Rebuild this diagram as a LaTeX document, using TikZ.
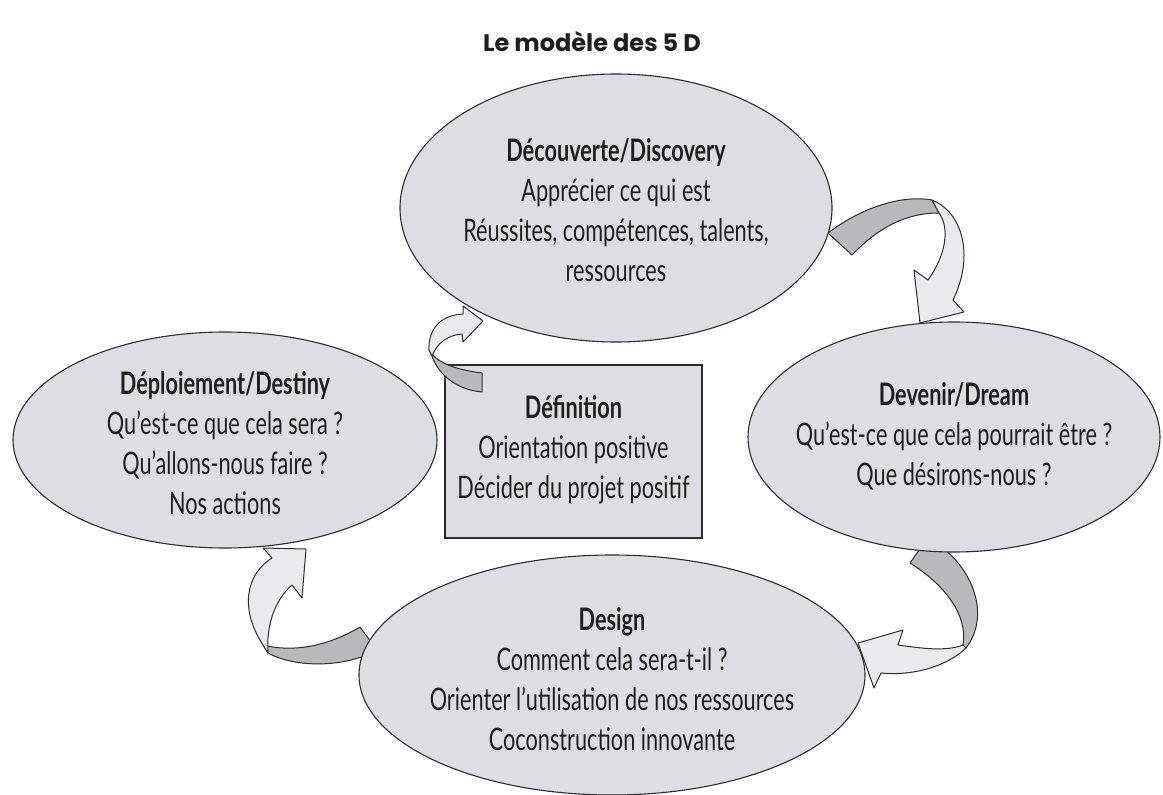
\documentclass[tikz,border=0pt]{standalone}
\usepackage{fontspec}
\setmainfont{Lato}[FakeStretch=0.7]
\newfontfamily\titlefont{Poppins}
\usetikzlibrary{shapes.geometric}
\definecolor{ellfill}{RGB}{221,222,227}
\definecolor{bandDark}{RGB}{184,185,189}
\definecolor{bandLight}{RGB}{233,234,237}
\definecolor{lineC}{RGB}{45,45,45}
\definecolor{txtC}{RGB}{30,30,30}
\begin{document}
\begin{tikzpicture}[x=1pt,y=-1pt,
  ell/.style={ellipse, draw=lineC, fill=ellfill, line width=1.1pt, inner sep=0pt},
  box/.style={rectangle, draw=lineC, fill=ellfill, line width=1.1pt, inner sep=0pt},
  txt/.style={align=center, text=txtC, font=\fontsize{31}{40}\selectfont},
  dk/.style={draw=lineC, fill=bandDark, line width=1pt, line join=round},
  lt/.style={draw=lineC, fill=bandLight, line width=1pt, line join=round}]
\useasboundingbox (0,0) rectangle (1163,795);
\fill[white] (0,0) rectangle (1163,795);

% title
\node[font=\titlefont\bfseries\fontsize{24}{28}\selectfont, text=txtC, anchor=base] (title) at (592,51) {Le modèle des 5 D};

% central box
\node[box, minimum width=257pt, minimum height=173pt] (def) at (573.5,451.5) {};

% arrow A : Discovery -> Dream
\draw[dk] (828,233) .. controls (865,205) and (905,195) .. (932,200) -- (939,213) .. controls (905,213) and (878,228) .. (852,255) -- cycle;
\draw[lt] (932,200) .. controls (962,212) and (975,255) .. (953,300) -- (964,312) -- (920,323) -- (914,270) -- (928,280) .. controls (946,255) and (950,228) .. (939,213) -- cycle;

% arrow B : Dream -> Design
\draw[dk] (927,539) .. controls (965,555) and (995,610) .. (966,648) -- (963,645) .. controls (968,615) and (945,585) .. (910,563) -- cycle;
\draw[lt] (963,645) .. controls (945,652) and (920,648) .. (898,645) -- (903,630) -- (858,643) -- (874,688) -- (881,673) .. controls (910,676) and (945,668) .. (966,648) -- cycle;

% arrow C : Design -> Destiny
\draw[dk] (360,627) .. controls (325,648) and (290,652) .. (263,645) -- (268,653) .. controls (295,668) and (345,668) .. (377,650) -- cycle;
\draw[lt] (263,645) .. controls (240,610) and (245,575) .. (272,558) -- (263,548) -- (306,549) -- (302,598) -- (292,585) .. controls (275,600) and (266,625) .. (268,653) -- cycle;

% arrow D : Definition -> Discovery
\draw[dk] (482,373) .. controls (460,370) and (438,365) .. (429,350) -- (432,356) .. controls (438,375) and (458,390) .. (482,392) -- cycle;
\draw[lt] (429,350) .. controls (428,330) and (440,315) .. (463,314) -- (463,306) -- (483,321) -- (463,342) -- (462,334) .. controls (448,335) and (437,343) .. (432,356) -- cycle;

% ellipses
\node[ell, minimum width=432pt, minimum height=268pt] (disc) at (616,208) {};
\node[ell, minimum width=412pt, minimum height=230pt] (dream) at (954,437) {};
\node[ell, minimum width=424pt, minimum height=216pt] (dest) at (225,440) {};
\node[ell, minimum width=506pt, minimum height=240pt] (design) at (612,675) {};

% texts
\node[txt] (disct) at (616,210) {\bfseries Découverte/Discovery\\Apprécier ce qui est\\Réussites, compétences, talents,\\ressources};
\node[txt] (dreamt) at (954,436) {\bfseries Devenir/Dream\\Qu’est-ce que cela pourrait être ?\\Que désirons-nous ?};
\node[txt] (destt) at (225,443) {\bfseries Déploiement/Destiny\\Qu’est-ce que cela sera ?\\Qu’allons-nous faire ?\\Nos actions};
\node[txt] (designt) at (612,679) {\bfseries Design\\Comment cela sera-t-il ?\\Orienter l’utilisation de nos ressources\\Coconstruction innovante};
\node[txt] (deft) at (573.5,450) {\bfseries Définition\\Orientation positive\\Décider du projet positif};
\end{tikzpicture}
\end{document}
